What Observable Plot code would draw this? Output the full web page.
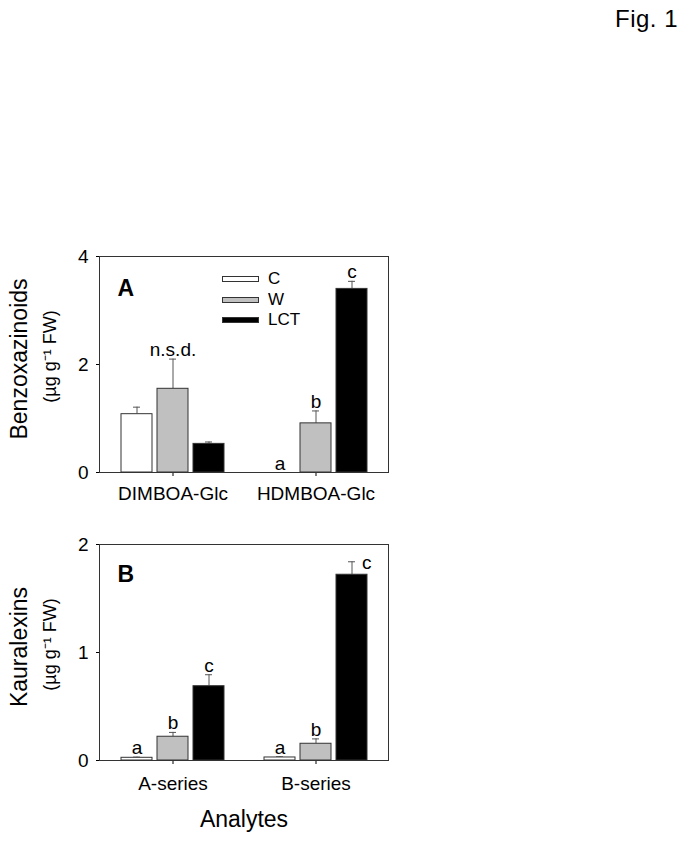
<!DOCTYPE html>
<html><head><meta charset="utf-8">
<script src="https://cdn.jsdelivr.net/npm/d3@7"></script>
<script src="https://cdn.jsdelivr.net/npm/@observablehq/plot@0.6"></script>
<style>
body{margin:0;background:#fff;font-family:"Liberation Sans",Arial,sans-serif;}
#wrap{position:relative;width:683px;height:845px;overflow:hidden;background:#fff;}
#fig{position:absolute;right:5px;top:7px;font-size:24px;line-height:24px;letter-spacing:0.5px;}
#legend{position:absolute;left:222px;top:269px;font-size:17px;}
#legend .row{display:flex;align-items:center;height:20.5px;}
#legend .sw{box-sizing:border-box;width:37px;height:6px;border:1px solid #333;margin-right:9px;}
</style></head><body><div id="wrap"><div id="fig">Fig. 1</div></div>
<script>
// ---- data ----
const treatments = ["C", "W", "LCT"];
const fills = ["#ffffff", "#c0c0c0", "#000000"];

// Panel A: Benzoxazinoids (µg g-1 FW)
const categoriesA = ["DIMBOA-Glc", "HDMBOA-Glc"];
const meanA_C   = [1.08, 0.00];
const meanA_W   = [1.55, 0.91];
const meanA_LCT = [0.53, 3.40];
const errA_C    = [0.13, 0.00];
const errA_W    = [0.55, 0.23];
const errA_LCT  = [0.035, 0.14];
const lettersA_C   = ["", "a"];
const lettersA_W   = ["n.s.d.", "b"];
const lettersA_LCT = ["", "c"];
const ticksA = [0, 2, 4];

// Panel B: Kauralexins (µg g-1 FW)
const categoriesB = ["A-series", "B-series"];
const meanB_C   = [0.025, 0.028];
const meanB_W   = [0.22, 0.155];
const meanB_LCT = [0.688, 1.72];
const errB_C    = [0.006, 0.006];
const errB_W    = [0.04, 0.045];
const errB_LCT  = [0.106, 0.12];
const lettersB_C   = ["a", "a"];
const lettersB_W   = ["b", "b"];
const lettersB_LCT = ["c", "c"];
const ticksB = [0, 1, 2];

const FONT = '"Liberation Sans", Arial, sans-serif';
const offsets = [-36, 0, 36];

function rowsFor(cats, means, errs, letters) {
  return treatments.map((t, ti) => cats.map((c, i) => ({
    category: c, treatment: t, value: means[ti][i], err: errs[ti][i],
    top: means[ti][i] + errs[ti][i], letter: letters[ti][i]
  })));
}

function panel({cats, rows, yMax, yTicks, ylab, panelLabel, height, marginTop, marginBottom, labelDy, xlabel, tickPad}) {
  const marks = [];
  rows.forEach((data, ti) => {
    const dx = offsets[ti];
    marks.push(Plot.ruleX(data.filter(d => d.err > 0), {x: "category", y1: "value", y2: "top", dx, stroke: "#555", strokeWidth: 1}));
    marks.push(Plot.tickY(data.filter(d => d.err > 0), {x: "category", y: "top", dx, insetLeft: 12, insetRight: 12, stroke: "#555", strokeWidth: 1}));
    marks.push(Plot.barY(data.filter(d => d.value > 0), {x: "category", y: "value", dx, fill: fills[ti], stroke: "#333", strokeWidth: 1, insetLeft: 0, insetRight: 0}));
    const above = data.filter(d => d.letter && d.top <= 0.9 * yMax);
    const beside = data.filter(d => d.letter && d.top > 0.9 * yMax);
    marks.push(Plot.text(above, {x: "category", y: "top", text: "letter", dx, dy: -3, lineAnchor: "bottom", fontSize: 19}));
    marks.push(Plot.text(beside, {x: "category", y: "top", text: "letter", dx: dx + 10, dy: 1, textAnchor: "start", fontSize: 19}));
  });
  marks.push(Plot.frame({stroke: "#333"}));
  marks.push(Plot.text([panelLabel], {frameAnchor: "top-left", text: d => d, dx: 18, dy: labelDy, textAnchor: "start", fontWeight: "bold", fontSize: 23}));
  marks.push(Plot.text([ylab[0]], {frameAnchor: "left", text: d => d, rotate: -90, textAnchor: "middle", dx: -79.5, dy: -5.5, fontSize: 23}));
  marks.push(Plot.text([ylab[1]], {frameAnchor: "left", text: d => d, rotate: -90, textAnchor: "middle", dx: -49.5, dy: -8, fontSize: 18}));
  if (xlabel) marks.push(Plot.text([xlabel], {frameAnchor: "bottom", text: d => d, textAnchor: "middle", dy: 66, fontSize: 23}));
  return Plot.plot({
    width: 683, height, marginLeft: 99, marginRight: 295, marginTop, marginBottom,
    style: {fontFamily: FONT, fontSize: "19px", color: "#000", background: "transparent", overflow: "visible"},
    x: {domain: cats, paddingInner: 0.785, paddingOuter: 0.396, label: null, tickSize: 4, tickPadding: tickPad},
    y: {domain: [0, yMax], ticks: yTicks, tickFormat: d => String(d), label: null, tickSize: 3, tickPadding: 8},
    marks
  });
}

const wrap = document.getElementById("wrap");
const unit = "(\u00b5g g\u207b\u00b9 FW)";

const pA = panel({
  cats: categoriesA,
  rows: rowsFor(categoriesA, [meanA_C, meanA_W, meanA_LCT], [errA_C, errA_W, errA_LCT], [lettersA_C, lettersA_W, lettersA_LCT]),
  yMax: 4, yTicks: ticksA, ylab: ["Benzoxazinoids", unit], panelLabel: "A",
  height: 282, marginTop: 26, marginBottom: 40, labelDy: 23, tickPad: 10
});
pA.style.position = "absolute"; pA.style.left = "0px"; pA.style.top = "230px";
wrap.appendChild(pA);

const pB = panel({
  cats: categoriesB,
  rows: rowsFor(categoriesB, [meanB_C, meanB_W, meanB_LCT], [errB_C, errB_W, errB_LCT], [lettersB_C, lettersB_W, lettersB_LCT]),
  yMax: 2, yTicks: ticksB, ylab: ["Kauralexins", unit], panelLabel: "B",
  height: 325, marginTop: 24, marginBottom: 85, labelDy: 21, xlabel: "Analytes", tickPad: 12
});
pB.style.position = "absolute"; pB.style.left = "0px"; pB.style.top = "520px";
wrap.appendChild(pB);

// legend (inside panel A)
const leg = document.createElement("div");
leg.id = "legend";
treatments.forEach((t, i) => {
  const row = document.createElement("div"); row.className = "row";
  const sw = document.createElement("div"); sw.className = "sw"; sw.style.background = fills[i];
  const lab = document.createElement("span"); lab.textContent = t;
  row.appendChild(sw); row.appendChild(lab); leg.appendChild(row);
});
wrap.appendChild(leg);
</script>
</body></html>
